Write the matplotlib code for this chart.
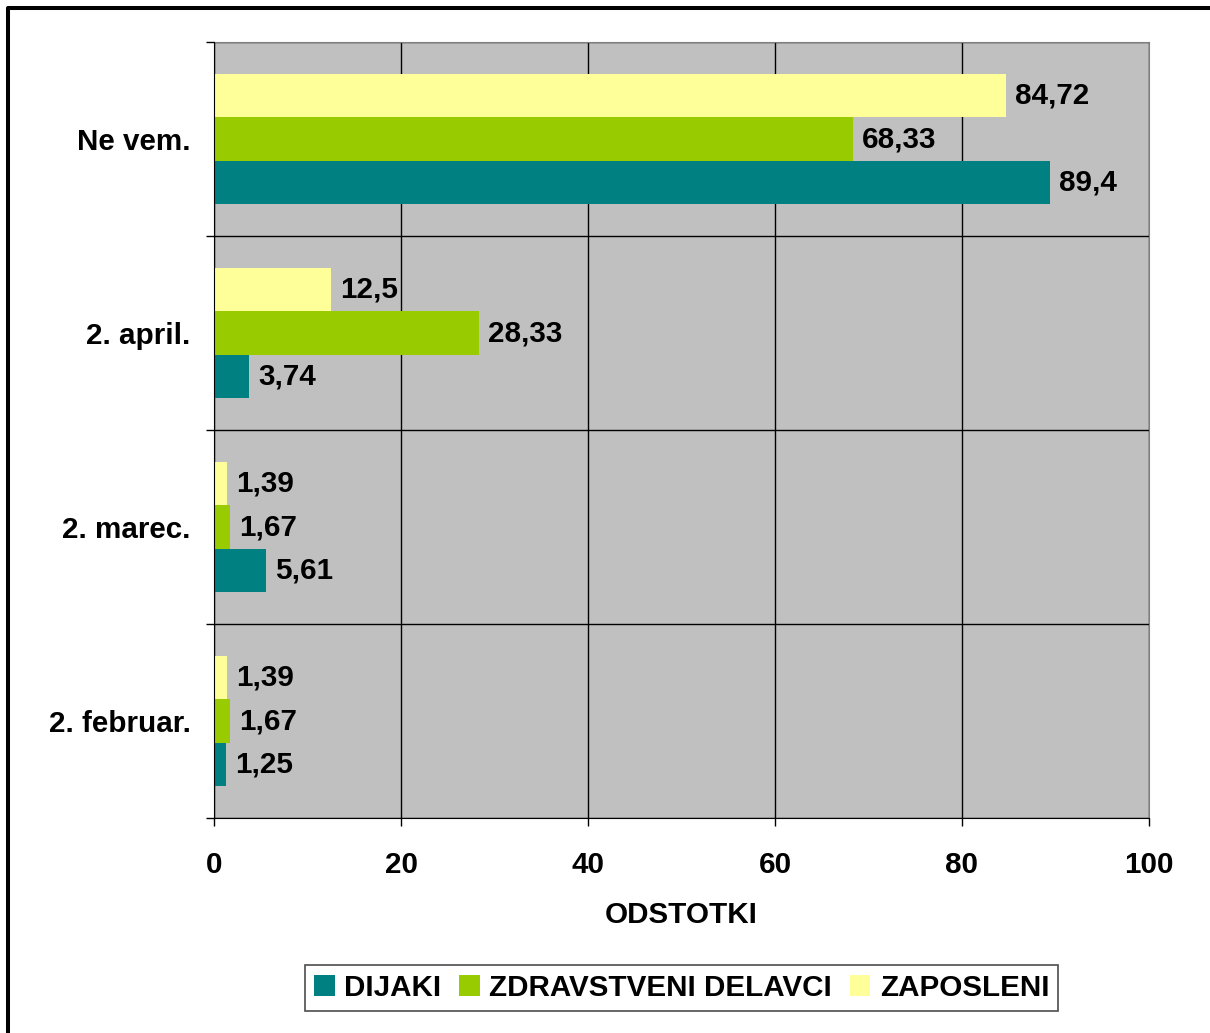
import numpy as np
import matplotlib
matplotlib.use("Agg")
import matplotlib.pyplot as plt
from matplotlib.lines import Line2D
from matplotlib.ticker import FixedLocator

plt.rcParams['font.family'] = ['Liberation Sans', 'DejaVu Sans']
plt.rcParams['font.weight'] = 'bold'

categories = ["2. februar.", "2. marec.", "2. april.", "Ne vem."]
series = ["DIJAKI", "ZDRAVSTVENI DELAVCI", "ZAPOSLENI"]
dijaki = [1.25, 5.61, 3.74, 89.4]
zdravstveni = [1.67, 1.67, 28.33, 68.33]
zaposleni = [1.39, 1.39, 12.5, 84.72]
labels_dijaki = ["1,25", "5,61", "3,74", "89,4"]
labels_zdravstveni = ["1,67", "1,67", "28,33", "68,33"]
labels_zaposleni = ["1,39", "1,39", "12,5", "84,72"]
colors = ["#008080", "#99CC00", "#FFFF99"]

FS = 21.3

fig = plt.figure(figsize=(12.1, 10.33), dpi=100)
ax = fig.add_axes([214/1210, 1-818/1033, 935/1210, 776/1033])
ax.set_facecolor("#C0C0C0")

y = np.arange(len(categories))
h = 0.224
vals = [dijaki, zdravstveni, zaposleni]
labs = [labels_dijaki, labels_zdravstveni, labels_zaposleni]
for k in range(3):
    bars = ax.barh(y + (k - 1) * h, vals[k], height=h, color=colors[k],
                   label=series[k], zorder=3)
    ax.bar_label(bars, labels=labs[k], padding=6.5, fontsize=FS,
                 fontweight='bold', zorder=4)

ax.set_xlim(0, 100)
ax.set_ylim(-0.5, len(categories) - 0.5)
ax.set_xticks(np.arange(0, 101, 20))
ax.set_yticks(y)
ax.set_yticklabels(categories)
ax.yaxis.set_minor_locator(FixedLocator(np.arange(-0.5, len(categories), 1)))
ax.tick_params(axis='y', which='major', length=0, pad=17, labelsize=FS)
ax.tick_params(axis='y', which='minor', length=5.5, width=1, color='black')
ax.tick_params(axis='x', length=6, width=1, pad=18, labelsize=FS)

ax.grid(axis='x', color='black', linewidth=1, zorder=1)
ax.grid(axis='y', which='minor', color='black', linewidth=1, zorder=1)
for s in ['top', 'right']:
    ax.spines[s].set_color('#808080')
for s in ['left', 'bottom']:
    ax.spines[s].set_color('black')
    ax.spines[s].set_zorder(5)

ax.text(0.5, (818-915)/776, "ODSTOTKI", transform=ax.transAxes,
        ha='center', va='center', fontsize=FS, fontweight='bold')

leg = fig.legend(loc='center', bbox_to_anchor=(681.5/1210, 1-988/1033),
                 ncol=3, fontsize=FS, frameon=True, fancybox=False,
                 handlelength=0.7, handleheight=0.7, handletextpad=0.32,
                 columnspacing=0.6, borderpad=0.3, borderaxespad=0)
leg.get_frame().set_edgecolor('#202020')
leg.get_frame().set_linewidth(1.2)

# outer frame (left and top only visible)
fig.add_artist(Line2D([8/1210, 8/1210, 1], [0, 1-8/1033, 1-8/1033],
                      transform=fig.transFigure, color='black', linewidth=2.9))

fig.savefig("out.png", dpi=100)
